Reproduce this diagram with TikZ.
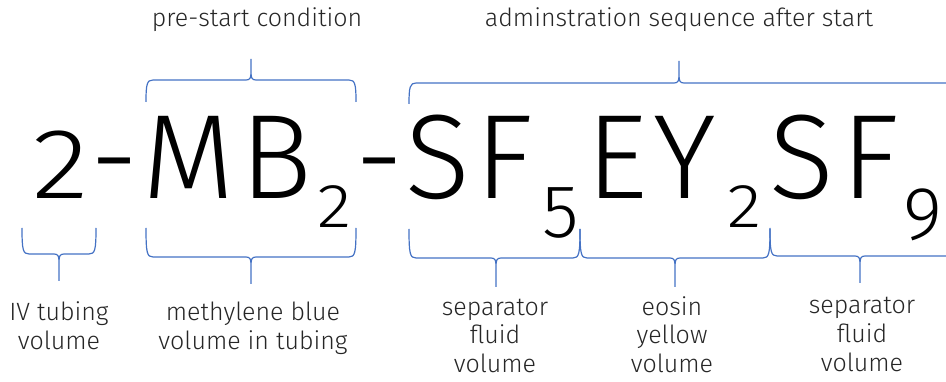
\documentclass[tikz,border=0pt]{standalone}
\usepackage{fontspec}
\setmainfont{Fira Sans Light}
\definecolor{braceblue}{RGB}{68,114,196}
\definecolor{labelgray}{RGB}{38,38,38}
% #1 left x, #2 right x, #3 free ends y, #4 line y, #5 tip x, #6 tip y, #7 1 = down, -1 = up
\newcommand{\cbrace}[7]{%
  \draw[brace] (#1,#3) .. controls (#1,{#4-4*(#7)}) and ({#1+1},#4) .. ({#1+7},#4)
    -- ({#5-5},#4) .. controls ({#5-1},#4) and (#5,{#4+2*(#7)}) .. (#5,{#4+8*(#7)}) -- (#5,#6)
    (#5,{#4+8*(#7)}) .. controls (#5,{#4+2*(#7)}) and ({#5+1},#4) .. ({#5+5},#4)
    -- ({#2-7},#4) .. controls ({#2-1},#4) and (#2,{#4-4*(#7)}) .. (#2,#3);}
\begin{document}
\begin{tikzpicture}[x=1pt, y=-1pt,
  big/.style={inner sep=0pt, anchor=base, font=\fontsize{120}{120}\selectfont},
  bignum/.style={inner sep=0pt, anchor=base, font=\fontsize{100}{100}\selectfont},
  sub/.style={inner sep=0pt, anchor=base, font=\fontsize{62}{62}\selectfont},
  subtall/.style={inner sep=0pt, anchor=base, font=\fontsize{75}{75}\selectfont},
  lbl/.style={inner sep=0pt, anchor=base, align=center, text=labelgray, font=\fontsize{25}{29}\selectfont},
  brace/.style={draw=braceblue, line width=1.2pt}]
\useasboundingbox (0,0) rectangle (946,382);

% the code itself
\foreach \x/\y/\t/\s [count=\i] in {60.5/199/\scalebox{1.18}[1]{2}/bignum, 114.5/199/-/big, 188.5/199/M/big,
    276/199/B/big, 335/228/\scalebox{1.15}[1]{2}/sub, 379.5/199/-/big, 437.5/199/S/big, 504/199/F/big,
    560.5/238/5/subtall, 617.5/199/E/big, 685/199/Y/big, 744.5/228/\scalebox{1.15}[1]{2}/sub,
    802/199/S/big, 870/199/F/big, 922.5/240/9/subtall}
  \node[\s] (g\i) at (\x,\y) {\t};

% labels
\node (pre) at (257,27) [lbl] {pre-start condition};
\node (admin) at (679,27) [lbl] {adminstration sequence after start};
\node (iv) at (59,349) [lbl] {IV tubing\\volume};
\node (mb) at (253,349) [lbl] {methylene blue\\volume in tubing};
\node (sf1) at (495,373) [lbl] {separator\\fluid\\volume};
\node (ey) at (672,373) [lbl] {eosin\\yellow\\volume};
\node (sf2) at (862,371) [lbl] {separator\\fluid\\volume};

% braces
\cbrace{146}{356}{102}{80}{251}{59}{-1}
\cbrace{409}{962}{104}{83}{679}{61}{-1}
\cbrace{22}{96}{228}{254}{59}{281}{1}
\cbrace{146}{356}{228}{257}{251}{284}{1}
\cbrace{409}{580}{229}{258}{496}{287}{1}
\cbrace{580}{770}{229}{258}{675}{287}{1}
\cbrace{770}{962}{228}{256}{860}{283}{1}
\end{tikzpicture}
\end{document}
